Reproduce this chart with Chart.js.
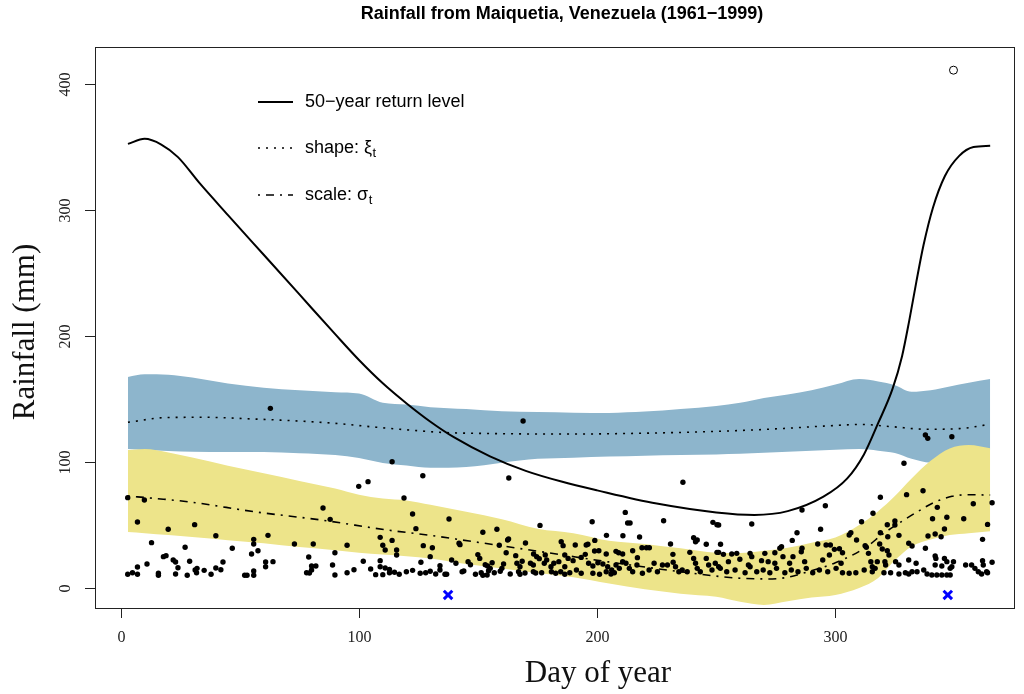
<!DOCTYPE html>
<html>
<head>
<meta charset="utf-8">
<title>Rainfall from Maiquetia</title>
<script src="https://cdn.jsdelivr.net/npm/chart.js@4.4.1/dist/chart.umd.min.js"></script>
<style>
  html, body { margin: 0; padding: 0; background: #fff; }
  canvas { display: block; }
</style>
</head>
<body>
<canvas id="rainChart" width="1024" height="694"></canvas>
<script>
// Tick labels
const xTicks = [0, 100, 200, 300];
const yTicks = [0, 100, 200, 300, 400];

// Confidence bands (day of year -> mm)
const bandDays = [3, 10, 20, 30, 45, 60, 75, 90, 100, 110, 120, 130, 145, 160, 175, 190, 205, 220, 235, 250, 260, 270, 280, 290, 300, 310, 318, 325, 332, 340, 348, 356, 365];
const shapeUpper = [167.5, 169.6, 169.2, 167, 162.3, 159, 157, 155.4, 154.3, 147, 145.6, 143.5, 142, 140.3, 139.6, 139.2, 139, 140, 142, 144.5, 147, 150.8, 153.5, 157, 161.5, 165.9, 164, 161, 155.8, 157, 160, 163, 165.9];
const shapeLower = [110.3, 109.5, 108.8, 108.2, 107.9, 107.9, 107, 105.5, 103.2, 99.3, 97.2, 95.4, 96, 99.5, 102.5, 103.4, 104.3, 105, 105.6, 106, 106.5, 107.3, 108.2, 109, 109.8, 110.3, 109, 107.1, 102.5, 99.5, 102, 106, 110];
const scaleUpper = [109.5, 110.3, 107.5, 103.5, 97, 91, 85, 79, 74, 71, 69.5, 66, 60.5, 54.5, 47, 43.5, 37.5, 35, 31.5, 28, 27.8, 29.5, 32, 36, 40, 50, 61, 73, 87, 101, 110.8, 113.5, 111];
const scaleLower = [44.4, 43.5, 42, 40.5, 38, 35.5, 32.5, 30, 28, 26.5, 25.3, 23.5, 19, 15.5, 12, 8.5, 3.5, -1, -4.5, -7, -11, -13.5, -10.5, -7.5, -5.5, 0, 8, 22, 33, 38.5, 42, 43.5, 45];

// 50-year return level
const returnDays = [3, 10, 17, 24, 33, 45, 60, 75, 90, 100, 110, 120, 130, 140, 155, 170, 185, 200, 225, 250, 266, 280, 295, 305, 312, 318, 324, 328, 331, 334, 337, 341, 346, 352, 358, 365];
const returnLevel = [352.5, 356.5, 352, 342, 321.5, 296, 264.5, 233, 201.5, 181, 162.5, 146.5, 132, 119.5, 104.5, 93, 84.5, 77.5, 67, 60, 58, 61, 72.5, 87, 106, 131, 158, 184, 212, 243, 272, 302, 327, 343, 350, 351];

// shape parameter curve
const shapeDays = [3, 19, 35, 55, 75, 90, 105, 121, 135, 148, 187, 218, 250, 277, 295, 311, 324, 338, 352, 365];
const shapeCurve = [131.5, 135.3, 135.5, 134.2, 132.5, 130.7, 128, 125.4, 123.5, 122.8, 122.2, 122.8, 124.3, 126.5, 128.5, 129.8, 128, 126, 126.5, 130];

// scale parameter curve
const scaleDays = [3, 15, 29, 57, 84, 112, 129, 152, 180, 208, 236, 258, 272, 280, 286, 300, 313, 320, 328, 334, 341, 349, 356, 365];
const scaleCurve = [73, 71, 68.3, 60.3, 54, 46, 42, 35.7, 27.8, 19.8, 12.7, 8, 7.2, 8.5, 11.5, 20, 32.5, 43, 53, 60, 67.5, 72.8, 74, 73.8];

// Annual maxima observations [day, mm]
const rainObs = [
  [2.9,71.7],[9.9,69.8],[7,52.4],[19.9,46.6],[31,50.3],[39.9,41.5],[55.8,38.6],[12.9,36],[27,32.3],[46.8,31.5],
  [55.8,34.9],[54.9,27],[57.6,29.6],[17.9,24.9],[19,25.7],[11,19],[7,16.7],[22,22.2],[23,20.6],[24,16.1],
  [28.9,21.2],[31.2,14.3],[32,15.6],[35,14],[39.9,15.9],[42,14.5],[42.9,20.6],[2.9,10.9],[4.9,12.1],[7,10.9],
  [15.8,11.7],[15.8,10.1],[23,11.1],[27.9,10.1],[37.9,10.9],[52,10.1],[53,10.1],[55.8,13.5],[55.8,10.1],[31.8,12.1],
  [62.8,142.6],[113.9,100.2],[99.9,80.7],[103.8,84.4],[118.9,71.4],[122.5,58.7],[84.9,63.5],[87.9,54.5],[61.8,41.8],[72.9,34.9],
  [80.8,34.9],[95,33.9],[89.9,28],[108.9,40.2],[110,33.9],[111,30.2],[113.9,37.8],[115.8,30.2],[115.8,26.2],[60.8,20.6],
  [60.8,16.9],[63.9,20.9],[78.9,24.6],[80.1,17.5],[81.9,17.5],[78,12.1],[79.2,11.9],[80.1,14.3],[88.9,18.3],[89.9,10.3],
  [95,12.1],[97.9,14.5],[101.8,21.2],[104.9,15.1],[107,10.6],[108.9,21.7],[108.9,16.9],[110,10.6],[111,15.9],[112.8,14.8],
  [112.8,12.1],[114.9,12.5],[116.9,10.9],[119.9,12.9],[122.5,14],
  [168.9,132.5],[126.8,89.1],[162.9,87.3],[137.8,54.8],[176,49.7],[123.9,47.1],[152,44.2],[157.9,46.6],[127,33.6],[130.8,32],
  [142,35.5],[142.4,34.4],[129.9,24.9],[162.4,38.1],[162.8,38.9],[158.9,33.9],[161.8,28],[169.9,35.7],[165.8,25.7],[184.9,36.8],
  [185.7,33.6],[149.9,26.5],[150.7,23.5],[173.3,27],[174.6,24.9],[175.7,23.3],[178.2,26.2],[178.8,22.2],[181.8,19.6],[183.9,20.9],
  [126,20.4],[134,17.7],[134,14.3],[138.9,22.2],[140.7,19.6],[145.8,20.9],[146.8,18.5],[153,18.5],[154,17.5],[155.1,15.6],
  [155.9,20.1],[160,15.6],[160.7,19],[166.3,19.6],[167.6,16.9],[168.5,21.2],[172,19.6],[173.2,18.3],[177.8,19.6],[180.6,16.9],
  [125.7,11.7],[128,12.1],[129.9,13.3],[132.2,11.1],[136.1,10.9],[136.8,10.9],[143.3,12.9],[144,13.5],[148.9,10.9],[151.3,12.1],
  [152,10.1],[154.4,13.7],[153.8,10.3],[156.8,12.1],[159.3,13.3],[163.5,11.1],[167,12.9],[167.6,10.9],[169.7,11.9],[173.2,12.9],
  [174.2,11.9],[176.7,12.1],[180.8,12.9],[182.6,11.7],[184.7,12.9],[186.4,10.9],
  [236,83.9],[197.9,52.6],[211.8,60],[212.8,51.6],[213.8,51.6],[227.9,53.4],[248.6,52.1],[250.3,50.2],[203.9,41.8],[210.8,41.5],
  [217.8,40.5],[190.8,34.1],[195.4,34.1],[196.1,34.7],[199,37.8],[218.8,32],[220.7,32],[221.9,32],[230.8,34.9],[240.5,39.9],
  [241.3,36.7],[242,38.1],[245.8,34.7],[250.3,28.3],[238.9,28.3],[231.8,26.7],[214.9,29.6],[198.9,29.4],[200.7,29.6],[203.8,27],
  [207.9,29.1],[209,28],[210.7,27],[216.9,24.1],[186.4,26.2],[187.8,23.5],[189.9,21.7],[193.3,24.3],[195,26.7],[196.4,19.6],
  [198.2,17.5],[200.3,20.1],[202.4,19],[204.4,16.9],[206.1,14.3],[207.9,18.3],[209.3,15.6],[210.7,20.9],[212.1,19.6],[213.5,15.6],
  [214.9,12.9],[216.7,18.3],[219,11.7],[221.8,14.3],[223.9,19.6],[225.3,12.9],[227.4,18.3],[229.5,18.3],[231.9,20.4],[232.9,16.9],
  [234.3,12.9],[235.7,14.3],[237.8,12.9],[240.5,23.5],[241.3,19.6],[242,15.6],[243.3,12.9],[245.8,23.5],[246.8,18.3],[248.2,14.3],
  [249.6,19.6],[251,16.9],[186.4,16.9],[188.5,12.1],[191.3,14.3],[193.3,11.7],[198.2,11.7],[201,10.9],[203.8,12.9],[205.8,11.1],
  [207.2,12.1],
  [286,61.9],[295.8,65.3],[251,50],[264.9,50.8],[283.9,43.9],[293.8,46.6],[281.9,37.8],[251.8,34.7],[311,52.6],[305.8,42.1],
  [306.5,43.9],[308.9,38.1],[292.6,34.9],[296.1,34.1],[297.9,34.1],[299.6,30.7],[301.7,31.2],[303,28],[297.5,26.2],[286,31.5],
  [285.7,28.8],[277.4,32.8],[276.7,31.5],[270.4,27.5],[274.6,28],[278,24.9],[282.2,24.9],[251,28.3],[253,26.7],[256.5,27],
  [258.6,27.5],[264.2,27.5],[264.9,24.9],[255.1,20.9],[259.9,22.8],[263.5,18.3],[269,21.7],[271.8,20.9],[274.6,19.6],[280.8,19.6],
  [287.1,20.9],[294.7,22.2],[302.4,19.6],
  [251.7,15.6],[254.4,12.9],[257.9,14.3],[262.1,12.1],[264.2,16.9],[267,12.9],[269.7,14.3],[272.5,12.1],[275.3,15.6],[278.8,12.1],
  [281.5,14.3],[284.3,12.9],[287.8,15.6],[290.5,12.1],[293.3,14.3],[296.8,12.9],[300.3,15.6],[303,12.1],[305.8,11.7],[308.6,12.1],
  [337.8,121.4],[338.8,118.8],[348.9,120.1],[328.8,99],[336.8,77.2],[329.9,74.1],[318.9,72],[342.8,64],[357.9,66.9],[365.8,67.7],
  [315.8,59.3],[340.8,55],[346.8,56.1],[353.9,55],[363.9,50.5],[325,53.2],[321.8,50.2],[325,50],[326.7,41.8],[318.9,43.9],
  [322,40.7],[338.9,41.3],[341.9,42.9],[344.4,40.7],[345.8,46.8],[361.8,38.6],[330.8,35.5],[332.2,33.3],[337.8,31.5],[312.5,33.6],
  [313,32.3],[318.6,34.9],[319.7,30.9],[321.8,29.6],[322.5,26.2],[313.9,27.5],[341.9,25.4],[342.2,23.5],[345.8,23.5],[346.8,20.9],
  [349.6,20.9],[330.8,22.2],[333.9,19.6],[325.3,20.9],[326.7,18.3],[314.9,20.9],[315.5,16.9],[317.6,20.9],[320.8,20.9],[321.1,18.3],
  [341.9,18.3],[344.7,17.5],[348.2,15.6],[348.9,16.9],[354.7,18.3],[357.2,18.3],[358.6,15.6],[360,12.9],[361.8,21.7],[362.1,18.3],
  [363.9,12.1],[365.8,20.4],
  [312.1,14.3],[315.5,12.9],[316.7,15.6],[320.4,12.1],[323.2,12.1],[326.7,11.1],[329.4,12.1],[330.8,11.1],[332.2,12.9],[334.3,12.9],
  [337.1,14.3],[338.5,11.1],[340.5,10.3],[342.6,10.3],[344.7,10.3],[346.8,10.3],[348.2,10.3],[361.4,11.1],[363.5,12.9]
];
const outlierObs = [[349.6, 411]];
const censoredObs = [[137.4, -5.5], [347.2, -5.5]];

const toXY = (xs, ys) => xs.map((x, i) => ({ x: x, y: ys[i] }));
const pairsToXY = pairs => pairs.map(p => ({ x: p[0], y: p[1] }));

const BLUE_BAND = '#8DB5CC';
const YELLOW_BAND = '#EDE48A';
const DOT_DASH = [2, 6];
const DOT_DASH_LONG = [2, 6, 8, 6];

// Frame, ticks, titles and legend in base-graphics style
const framePlugin = {
    id: 'frame',
    afterDraw(chart) {
        const { ctx, chartArea: area, scales } = chart;
        const xs = scales.x, ys = scales.y;
        ctx.save();

        // box
        ctx.strokeStyle = '#222';
        ctx.lineWidth = 1;
        ctx.strokeRect(area.left + 0.5, area.top + 0.5, area.right - area.left - 1, area.bottom - area.top);

        // x axis ticks
        ctx.fillStyle = '#222';
        ctx.font = '16px "Liberation Serif"';
        ctx.textAlign = 'center';
        ctx.textBaseline = 'middle';
        xTicks.forEach(v => {
            const px = Math.round(xs.getPixelForValue(v)) + 0.5;
            ctx.beginPath();
            ctx.moveTo(px, area.bottom);
            ctx.lineTo(px, area.bottom + 10);
            ctx.stroke();
            ctx.fillText(String(v), px, area.bottom + 30);
        });

        // y axis ticks, labels turned parallel to the axis
        yTicks.forEach(v => {
            const py = Math.round(ys.getPixelForValue(v)) + 0.5;
            ctx.beginPath();
            ctx.moveTo(area.left, py);
            ctx.lineTo(area.left - 10, py);
            ctx.stroke();
            ctx.save();
            ctx.translate(area.left - 29, py);
            ctx.rotate(-Math.PI / 2);
            ctx.fillText(String(v), 0, 0);
            ctx.restore();
        });

        // axis titles
        ctx.fillStyle = '#111';
        ctx.font = '31px "Liberation Serif"';
        ctx.fillText('Day of year', 598, 674);
        ctx.save();
        ctx.translate(26, 332);
        ctx.rotate(-Math.PI / 2);
        ctx.fillText('Rainfall (mm)', 0, 0);
        ctx.restore();

        // main title
        ctx.fillStyle = '#000';
        ctx.font = 'bold 18px "Liberation Sans"';
        ctx.fillText('Rainfall from Maiquetia, Venezuela (1961\u22121999)', 562, 14);

        // legend
        const rows = [
            { y: 102, width: 2, dash: [], label: '50\u2212year return level' },
            { y: 148, width: 1.6, dash: DOT_DASH, label: 'shape: \u03BE', sub: 't' },
            { y: 195, width: 1.6, dash: DOT_DASH_LONG, label: 'scale: \u03C3', sub: 't' }
        ];
        ctx.textAlign = 'left';
        rows.forEach(r => {
            ctx.strokeStyle = '#000';
            ctx.lineWidth = r.width;
            ctx.setLineDash(r.dash);
            ctx.beginPath();
            ctx.moveTo(258, r.y);
            ctx.lineTo(293, r.y);
            ctx.stroke();
            ctx.setLineDash([]);
            ctx.font = '18px "Liberation Sans"';
            ctx.fillText(r.label, 305, r.y);
            if (r.sub) {
                const w = ctx.measureText(r.label).width;
                ctx.font = '13px "Liberation Sans"';
                ctx.fillText(r.sub, 305 + w + 0.5, r.y + 5);
            }
        });

        ctx.restore();
    }
};

const lineDefaults = {
    type: 'line',
    pointRadius: 0,
    borderColor: '#000',
    backgroundColor: 'rgba(0,0,0,0)',
    cubicInterpolationMode: 'monotone',
    fill: false
};

const ctx = document.getElementById('rainChart').getContext('2d');
const rainChart = new Chart(ctx, {
    type: 'line',
    data: {
        datasets: [
            {   // 0: observations
                type: 'scatter',
                data: pairsToXY(rainObs),
                pointRadius: 2.7,
                pointBackgroundColor: '#000',
                pointBorderWidth: 0,
                order: 0
            },
            {   // 1: largest observation, open symbol
                type: 'scatter',
                data: pairsToXY(outlierObs),
                pointRadius: 4,
                pointBackgroundColor: 'rgba(0,0,0,0)',
                pointBorderColor: '#000',
                pointBorderWidth: 1,
                order: 0
            },
            {   // 2: censored days
                type: 'scatter',
                data: pairsToXY(censoredObs),
                pointStyle: 'crossRot',
                pointRadius: 6,
                pointBorderColor: '#0000FF',
                pointBorderWidth: 3,
                order: 0
            },
            {   // 3: return level
                ...lineDefaults,
                data: toXY(returnDays, returnLevel),
                borderWidth: 2,
                order: 1
            },
            {   // 4: shape
                ...lineDefaults,
                data: toXY(shapeDays, shapeCurve),
                borderWidth: 1.6,
                borderDash: DOT_DASH,
                order: 1
            },
            {   // 5: scale
                ...lineDefaults,
                data: toXY(scaleDays, scaleCurve),
                borderWidth: 1.6,
                borderDash: DOT_DASH_LONG,
                order: 1
            },
            {   // 6: scale band, lower edge
                ...lineDefaults,
                data: toXY(bandDays, scaleLower),
                borderWidth: 0,
                order: 3
            },
            {   // 7: scale band, upper edge filled down to 6
                ...lineDefaults,
                data: toXY(bandDays, scaleUpper),
                borderWidth: 0,
                backgroundColor: YELLOW_BAND,
                fill: 6,
                order: 3
            },
            {   // 8: shape band, lower edge
                ...lineDefaults,
                data: toXY(bandDays, shapeLower),
                borderWidth: 0,
                order: 4
            },
            {   // 9: shape band, upper edge filled down to 8
                ...lineDefaults,
                data: toXY(bandDays, shapeUpper),
                borderWidth: 0,
                backgroundColor: BLUE_BAND,
                fill: 8,
                order: 4
            }
        ]
    },
    options: {
        responsive: false,
        animation: false,
        devicePixelRatio: 1,
        layout: { padding: { left: 95, top: 47, right: 2, bottom: 86 } },
        scales: {
            x: { type: 'linear', min: -10.83, max: 375.42, display: false },
            y: { type: 'linear', min: -15.87, max: 429.4, display: false }
        },
        plugins: {
            legend: { display: false },
            tooltip: { enabled: false },
            title: { display: false }
        }
    },
    plugins: [framePlugin]
});
</script>
</body>
</html>
